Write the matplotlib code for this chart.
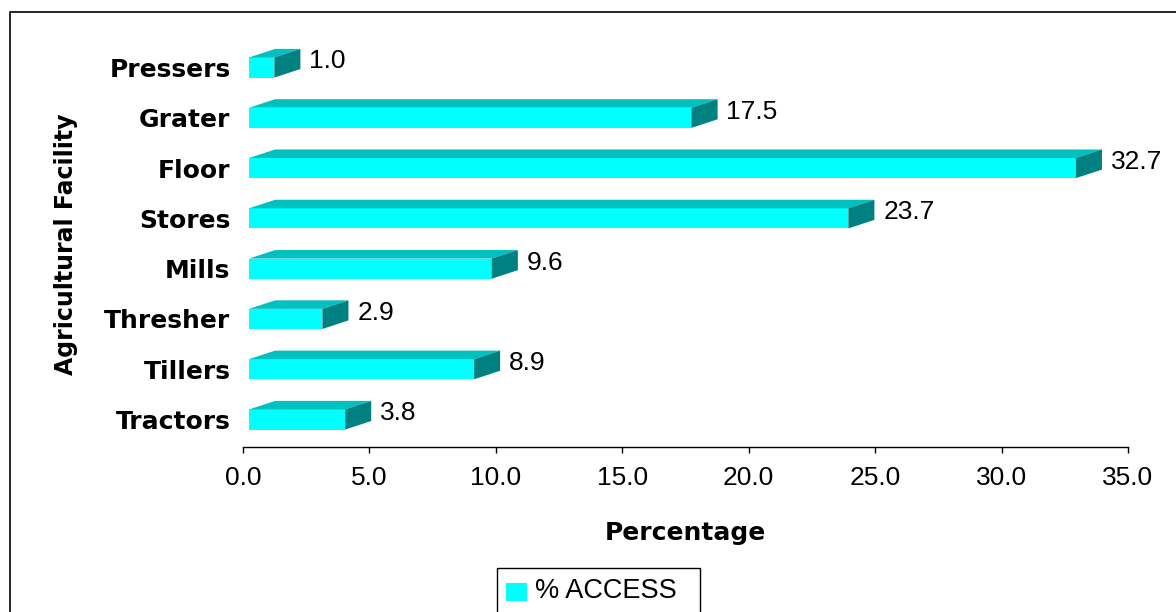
import matplotlib
matplotlib.use("Agg")
import matplotlib.pyplot as plt
from matplotlib.patches import Rectangle, Polygon

# access to agricultural facilities (% of respondents)
facilities = ["Tractors", "Tillers", "Thresher", "Mills", "Stores", "Floor", "Grater", "Pressers"]
access = [3.8, 8.9, 2.9, 9.6, 23.7, 32.7, 17.5, 1.0]
xticks = [0, 5, 10, 15, 20, 25, 30, 35]

FRONT = "#00FFFF"
TOP = "#00C0C0"
SIDE = "#008080"

W, H = 1176, 612
fig = plt.figure(figsize=(W / 100, H / 100), dpi=100)
ax = fig.add_axes([243 / W, 1 - 447 / H, 885 / W, 407 / H])

# bar geometry in data units: front offset, depth shift, bar thickness
x0 = 0.24
dx, dy = 1.03, 0.17
h = 0.40

for i, v in enumerate(access):
    yb, yt = i - h / 2, i + h / 2
    ax.add_patch(Rectangle((x0, yb), v, h, facecolor=FRONT, edgecolor="none"))
    ax.add_patch(Polygon([(x0, yt), (x0 + v, yt), (x0 + v + dx, yt + dy), (x0 + dx, yt + dy)],
                         closed=True, facecolor=TOP, edgecolor="none"))
    ax.add_patch(Polygon([(x0 + v, yb), (x0 + v + dx, yb + dy), (x0 + v + dx, yt + dy), (x0 + v, yt)],
                         closed=True, facecolor=SIDE, edgecolor="none"))
    ax.text(v + x0 + dx + 0.35, i + 0.12, f"{v:.1f}", ha="left", va="center",
            fontsize=19, family="Liberation Sans", color="black")

ax.set_xlim(0, 35)
ax.set_ylim(-0.547, 7.547)

ax.set_xticks(xticks)
ax.set_xticklabels([f"{t:.1f}" for t in xticks], family="Liberation Sans", fontsize=19)
ax.set_yticks(range(len(facilities)))
ax.set_yticklabels(facilities, family="DejaVu Sans", fontweight="bold", fontsize=18)
ax.tick_params(axis="x", direction="out", length=4.3, width=1, pad=9.5)
ax.tick_params(axis="y", length=0, pad=9)

for s in ["top", "right", "left"]:
    ax.spines[s].set_visible(False)
ax.spines["bottom"].set_linewidth(1)

ax.set_xlabel("Percentage", family="DejaVu Sans", fontweight="bold", fontsize=18, labelpad=22)
fig.text(66 / W, 1 - 244 / H, "Agricultural Facility", rotation=90, ha="center", va="center",
         family="DejaVu Sans", fontweight="bold", fontsize=17)

# outer chart border, running off the right and bottom edges
fig.add_artist(Rectangle((9.5 / W, -0.2), 1.5, 1.2 - 11.5 / H, transform=fig.transFigure,
                         facecolor="none", edgecolor="black", linewidth=1.2))

# legend box, also cut by the bottom edge
fig.add_artist(Rectangle((497 / W, -0.1), 203 / W, 0.1 + (H - 568) / H, transform=fig.transFigure,
                         facecolor="white", edgecolor="black", linewidth=1))
fig.add_artist(Rectangle((506 / W, 1 - 601 / H), 21 / W, 18 / H, transform=fig.transFigure,
                         facecolor=FRONT, edgecolor="none"))
fig.text(535 / W, 1 - 591 / H, "% ACCESS", ha="left", va="center",
         family="Liberation Sans", fontsize=19.5)

fig.savefig("out.png", dpi=100)
